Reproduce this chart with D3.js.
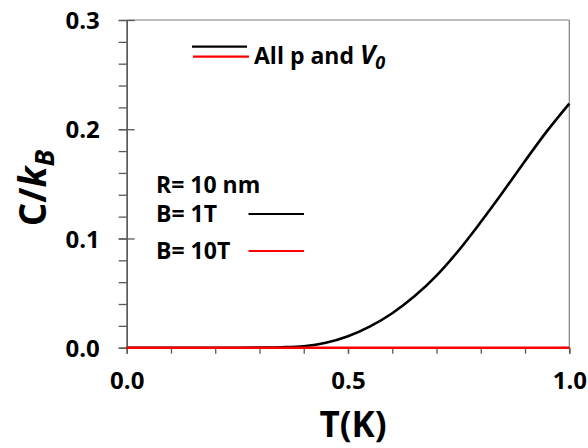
<!DOCTYPE html>
<html><head><meta charset="utf-8">
<script src="https://cdn.jsdelivr.net/npm/d3@7"></script>
<style>
body{margin:0;background:#fff;}
svg text{font-family:"Open Sans",sans-serif;font-weight:bold;fill:#000;}
</style></head>
<body>
<svg id="chart" width="588" height="448"></svg>
<script>
// Data
const temperatures = [0.0,0.1,0.2,0.25,0.3,0.35,0.4,0.45,0.5,0.55,0.6,0.65,0.7,0.75,0.8,0.85,0.9,0.95,1.0];
const heatB1T  = [0,0,0,0.00002,0.0001,0.0004,0.0014,0.0045,0.0105,0.0195,0.0315,0.047,0.066,0.089,0.115,0.1425,0.171,0.1985,0.2235];
const heatB10T = [0,0,0,0,0,0,0,0,0,0,0,0,0,0,0,0,0,0,0];
const xTicks = [0.0,0.5,1.0];
const yTicks = [0.0,0.1,0.2,0.3];
const seriesNames = ["B= 1T","B= 10T"];
const seriesColors = ["#000000","#ff0000"];

const svg = d3.select("#chart");
const L=126.7, R=569.3, T=20, B=347.7;
const x = d3.scaleLinear().domain([0,1]).range([L,R]);
const y = d3.scaleLinear().domain([0,0.3]).range([B,T]);
const axisColor="#595959";

// frame (top/right)
svg.append("line").attr("x1",L).attr("x2",R).attr("y1",T).attr("y2",T).attr("stroke","#7f7f7f").attr("stroke-width",1.2);
svg.append("line").attr("x1",R).attr("x2",R).attr("y1",T).attr("y2",B).attr("stroke","#7f7f7f").attr("stroke-width",1.2);

function styleAxis(g){
  g.select(".domain").attr("stroke",axisColor).attr("stroke-width",1.3);
  g.selectAll(".tick line").attr("stroke",axisColor).attr("stroke-width",1.3);
}
const yMinor = d3.range(0,0.3001,0.02).map(v=>+v.toFixed(2));
svg.append("g").attr("transform",`translate(${L},0)`)
  .call(d3.axisLeft(y).tickValues(yMinor).tickSize(8).tickFormat("").tickSizeOuter(0))
  .call(styleAxis);
svg.append("g").attr("transform",`translate(${L},0)`)
  .call(d3.axisRight(y).tickValues(yTicks).tickSize(8).tickFormat("").tickSizeOuter(0))
  .call(g=>g.select(".domain").remove()).call(styleAxis);
const yAx = svg.append("g").attr("transform",`translate(${L},0)`)
  .call(d3.axisLeft(y).tickValues(yTicks).tickSize(8).tickPadding(19).tickFormat(d3.format(".1f")).tickSizeOuter(0))
  .call(styleAxis);
yAx.selectAll("text").style("font-size","24px").attr("dy","0.36em");

const xMinor = d3.range(0,1.0001,0.1).map(v=>+v.toFixed(1));
svg.append("g").attr("transform",`translate(0,${B})`)
  .call(d3.axisBottom(x).tickValues(xMinor).tickSize(6).tickFormat("").tickSizeOuter(0))
  .call(styleAxis);
const xAx = svg.append("g").attr("transform",`translate(0,${B})`)
  .call(d3.axisBottom(x).tickValues(xTicks).tickSize(6).tickPadding(18).tickFormat(d3.format(".1f")).tickSizeOuter(0))
  .call(styleAxis);
xAx.selectAll("text").style("font-size","24px");

// series
const line = d3.line().x((d,i)=>x(temperatures[i])).y(d=>y(d)).curve(d3.curveCatmullRom.alpha(0.5));
[heatB1T,heatB10T].forEach((s,i)=>{
  svg.append("path").datum(s).attr("d",line).attr("fill","none")
    .attr("stroke",seriesColors[i]).attr("stroke-width",2.6);
});

// legend top
svg.append("line").attr("x1",192).attr("x2",247).attr("y1",46.7).attr("y2",46.7).attr("stroke","#000").attr("stroke-width",2.2);
svg.append("line").attr("x1",193).attr("x2",249).attr("y1",56.7).attr("y2",56.7).attr("stroke","#ff0000").attr("stroke-width",2.2);
const lt = svg.append("text").attr("x",254).attr("y",64).style("font-size","23px");
lt.append("tspan").text("All p and ");
lt.append("tspan").text("V").style("font-style","italic").style("font-size","26px");
lt.append("tspan").text("0").style("font-style","italic").style("font-size","18px").attr("dy",5);

// annotation legend
svg.append("text").attr("x",156).attr("y",193).style("font-size","23px").text("R= 10 nm");
const legY=[214,251];
seriesNames.forEach((n,i)=>{
  svg.append("text").attr("x",156).attr("y",legY[i]+8).style("font-size","23px").text(n);
  svg.append("line").attr("x1",248.5).attr("x2",304).attr("y1",legY[i]).attr("y2",legY[i])
    .attr("stroke",seriesColors[i]).attr("stroke-width",2);
});

// axis titles
svg.append("text").attr("x",353).attr("y",437).attr("text-anchor","middle").style("font-size","35px").text("T(K)");
const yl = svg.append("text").attr("transform","translate(46,188) rotate(-90)").attr("text-anchor","middle").style("font-size","37px");
yl.append("tspan").text("C/");
yl.append("tspan").text("k").style("font-style","italic");
yl.append("tspan").text("B").style("font-style","italic").style("font-size","27px").attr("dy",8);
</script>
</body></html>
